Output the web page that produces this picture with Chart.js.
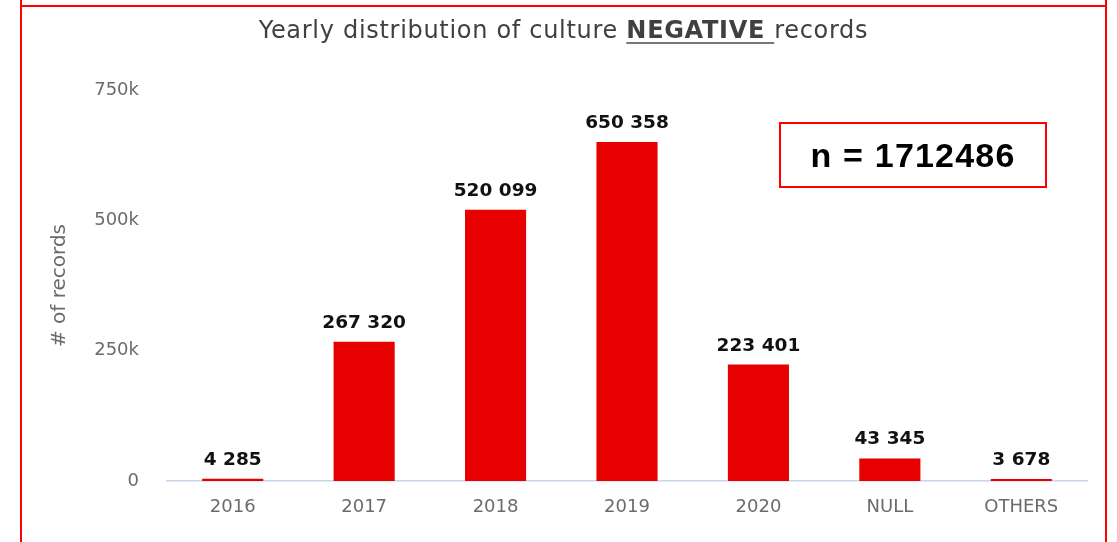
<!DOCTYPE html>
<html>
<head>
<meta charset="utf-8">
<title>Yearly distribution of culture NEGATIVE records</title>
<script src="https://cdn.jsdelivr.net/npm/chart.js@4.4.0/dist/chart.umd.min.js"></script>
<style>
  html, body { margin: 0; padding: 0; background: #fff; }
  #wrap { position: relative; width: 1117px; height: 542px; overflow: hidden; }
  #chart { position: absolute; left: 0; top: 0; }
  .edge { position: absolute; background: #f00; }
  #edge-left { left: 20px; top: 0; width: 2px; height: 542px; }
  #edge-right { left: 1105px; top: 0; width: 2px; height: 542px; }
  #edge-top { left: 20px; top: 5px; width: 1087px; height: 2px; }
  #heading {
    position: absolute; left: 0; top: 16px; width: 1127px;
    text-align: center; font: 24px "DejaVu Sans", sans-serif; line-height: 28px;
    letter-spacing: 0.7px; color: #404040; white-space: pre;
  }
  #heading b { text-decoration: underline; text-decoration-color: #777; text-underline-offset: 4px; }
  #total {
    position: absolute; left: 779px; top: 122px; width: 268px; height: 66px;
    box-sizing: border-box; border: 2px solid #f00;
    display: flex; align-items: center; justify-content: center;
    font: bold 34px Arial, "Liberation Sans", sans-serif; letter-spacing: 1.2px; color: #000;
  }
</style>
</head>
<body>
<div id="wrap">
  <canvas id="chart" width="1117" height="542"></canvas>
  <div id="heading">Yearly distribution of culture <b>NEGATIVE </b>records</div>
  <div id="total"></div>
  <div class="edge" id="edge-left"></div>
  <div class="edge" id="edge-right"></div>
  <div class="edge" id="edge-top"></div>
</div>
<script>
const categories = ['2016', '2017', '2018', '2019', '2020', 'NULL', 'OTHERS'];
const counts = [4285, 267320, 520099, 650358, 223401, 43345, 3678];
const yTicks = [0, 250000, 500000, 750000];

// "650358" -> "650 358"
function formatCount(n) {
    return String(n).replace(/\B(?=(\d{3})+(?!\d))/g, ' ');
}

const total = counts.reduce((a, b) => a + b, 0);
document.getElementById('total').textContent = 'n = ' + total;

// numbers printed above each bar
const valueLabels = {
    id: 'valueLabels',
    afterDatasetsDraw(chart) {
        const ctx = chart.ctx;
        const meta = chart.getDatasetMeta(0);
        ctx.save();
        ctx.font = 'bold 18.5px "DejaVu Sans"';
        ctx.fillStyle = '#111';
        ctx.textAlign = 'center';
        ctx.textBaseline = 'alphabetic';
        meta.data.forEach((bar, i) => {
            ctx.fillText(formatCount(counts[i]), bar.x, bar.y - 14);
        });
        ctx.restore();
    }
};

const tickFont = { family: 'DejaVu Sans', size: 18 };

new Chart(document.getElementById('chart').getContext('2d'), {
    type: 'bar',
    data: {
        labels: categories,
        datasets: [{
            data: counts,
            backgroundColor: '#e60000',
            borderWidth: 0,
            barPercentage: 0.465,
            categoryPercentage: 1
        }]
    },
    options: {
        responsive: false,
        animation: false,
        layout: { padding: { top: 90, right: 30, left: 0, bottom: 0 } },
        plugins: {
            legend: { display: false },
            tooltip: { enabled: false }
        },
        scales: {
            x: {
                grid: { display: false, drawTicks: false },
                border: { display: true, color: '#c9d5ea', width: 1.5 },
                ticks: { color: '#6b6b6b', font: tickFont, padding: 16 },
                afterFit(scale) { scale.height = 61; }
            },
            y: {
                min: 0,
                max: yTicks[yTicks.length - 1],
                afterBuildTicks(scale) { scale.ticks = yTicks.map(v => ({ value: v })); },
                ticks: {
                    color: '#6b6b6b',
                    font: tickFont,
                    padding: 28,
                    callback: v => v === 0 ? '0' : (v / 1000) + 'k'
                },
                grid: { display: false, drawTicks: false },
                border: { display: false },
                title: {
                    display: true,
                    text: '# of records',
                    color: '#6b6b6b',
                    font: { family: 'DejaVu Sans', size: 20 },
                    padding: { top: 48, bottom: 0 }
                },
                afterFit(scale) { scale.width = 167; }
            }
        }
    },
    plugins: [valueLabels]
});
</script>
</body>
</html>
